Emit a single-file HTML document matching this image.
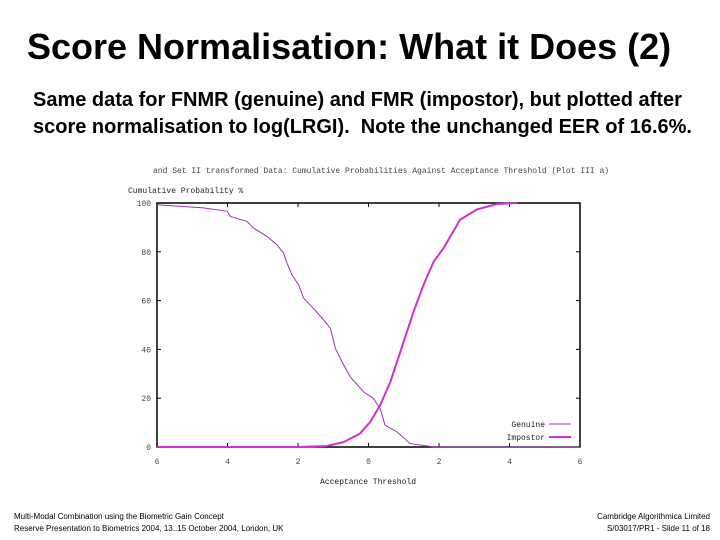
<!DOCTYPE html>
<html><head><meta charset="utf-8"><style>
body{margin:0;width:720px;height:540px;background:#fff;overflow:hidden;font-family:"Liberation Sans",sans-serif;position:relative}
.t{position:absolute;white-space:nowrap;color:#000}
</style></head><body>
<div class="t" style="left:27px;top:26px;font-size:36px;font-weight:bold">Score Normalisation: What it Does (2)</div>
<div class="t" style="left:33px;top:87px;font-size:20px;font-weight:bold;line-height:27px">Same data for FNMR (genuine) and FMR (impostor), but plotted after<br>score normalisation to log(LRGI).&nbsp; Note the unchanged EER of 16.6%.</div>
<svg id="chart" width="720" height="540" style="position:absolute;left:0;top:0" font-family="Liberation Mono, monospace"></svg>
<div class="t" style="left:14px;top:511px;font-size:8px;line-height:12px">Multi-Modal Combination using the Biometric Gain Concept<br>Reserve Presentation to Biometrics 2004, 13..15 October 2004, London, UK</div>
<div class="t" style="right:10px;top:511px;font-size:8px;line-height:12px;text-align:right">Cambridge Algorithmica Limited<br>S/03017/PR1 - Slide 11 of 18</div>
<script>
const xTicks=[-6,-4,-2,0,2,4,6];
const xTickLabels=["6","4","2","0","2","4","6"];
const yTicks=[0,20,40,60,80,100];
const genuineX=[-6,-4.68,-4.01,-3.92,-3.45,-3.26,-2.88,-2.6,-2.41,-2.31,-2.17,-1.98,-1.84,-1.56,-1.27,-1.08,-0.94,-0.75,-0.52,-0.14,0.14,0.33,0.47,0.81,1.18,1.85,6];
const genuineY=[99.3,98,96.6,94.5,92.5,89.7,86.3,82.9,79.5,75.3,70.5,66.4,61,56.8,52,48.6,40.4,34.9,28.8,22.6,19.9,15.8,8.9,6.2,1.4,0,0];
const impostorX=[-6,-2.03,-1.18,-0.71,-0.24,0.05,0.33,0.62,1.0,1.28,1.56,1.85,2.13,2.6,3.07,3.64,4.21];
const impostorY=[0,0,0.4,2,5.5,10.3,17.1,26.7,43.2,55.5,66.4,76,81.5,93.2,97.3,99.6,100];
const L=157,R=580,T=203,B=447;
const sx=v=>L+(v+6)/12*(R-L), sy=v=>B-v/100*(B-T);
const svg=document.getElementById('chart');const NS='http://www.w3.org/2000/svg';
function mk(tag,attrs,txt){const e=document.createElementNS(NS,tag);for(const k in attrs)e.setAttribute(k,attrs[k]);if(txt!==undefined)e.textContent=txt;svg.appendChild(e);return e;}
let e;
e=mk('text',{x:153,y:173,'font-size':8,fill:'#444'},'and Set II transformed Data: Cumulative Probabilities Against Acceptance Threshold (Plot III a)');


e=mk('text',{x:128,y:193,'font-size':8,fill:'#222'},'Cumulative Probability %');


e=mk('text',{x:368,y:484,'font-size':8,fill:'#222','text-anchor':'middle'},'Acceptance Threshold');


e=mk('rect',{x:L,y:T,width:R-L,height:B-T,fill:'none',stroke:'#000','stroke-width':1.5});


yTicks.forEach(v=>{
 e=mk('text',{x:151,y:sy(v)+3,'font-size':8,fill:'#444','text-anchor':'end'},String(v));
 
 
 mk('line',{x1:L,x2:L+4,y1:sy(v),y2:sy(v),stroke:'#000'});
 mk('line',{x1:R-4,x2:R,y1:sy(v),y2:sy(v),stroke:'#000'});
});
xTicks.forEach((v,i)=>{
 e=mk('text',{x:sx(v),y:464,'font-size':8,fill:'#444','text-anchor':'middle'},xTickLabels[i]);
 
 
 mk('line',{x1:sx(v),x2:sx(v),y1:B,y2:B-4,stroke:'#000'});
 mk('line',{x1:sx(v),x2:sx(v),y1:T,y2:T+4,stroke:'#000'});
});
function pts(xs,ys){return xs.map((x,i)=>sx(x)+','+sy(ys[i])).join(' ');}
e=mk('polyline',{points:pts(genuineX,genuineY),fill:'none',stroke:'#9933aa','stroke-width':1});


e=mk('polyline',{points:pts(impostorX,impostorY),fill:'none',stroke:'#cc33cc','stroke-width':2});


e=mk('text',{x:545,y:427,'font-size':8,fill:'#222','text-anchor':'end'},'Genuine');


mk('line',{x1:549,x2:571,y1:424,y2:424,stroke:'#9933aa'});
e=mk('text',{x:545,y:440,'font-size':8,fill:'#222','text-anchor':'end'},'Impostor');


mk('line',{x1:549,x2:571,y1:437,y2:437,stroke:'#cc33cc','stroke-width':2});
</script>
</body></html>
